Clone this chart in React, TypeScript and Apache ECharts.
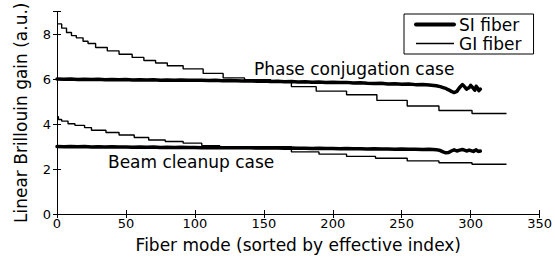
import React, { useEffect, useRef } from "react";
import * as echarts from "echarts";

// SI fiber (thick, noisy) — mode index and gain
const siModes = [
  0, 5, 10, 15, 20, 25, 30, 35, 40, 45, 50, 55, 60, 65, 70, 75, 80, 85, 90, 95,
  100, 105, 110, 115, 120, 125, 130, 135, 140, 145, 150, 155, 160, 165, 170, 175,
  180, 185, 190, 195, 200, 205, 210, 215, 220, 225, 230, 235, 240, 245, 250, 255,
  260, 265, 270, 275, 278, 280, 282, 284, 286, 288, 290, 292, 294, 295, 297, 299,
  300, 302, 303, 304, 305, 306, 307,
];
const siPhase = [
  6.0, 5.99, 6.0, 5.98, 5.99, 5.98, 5.99, 5.97, 5.98, 5.97, 5.98, 5.96, 5.97, 5.96, 5.97, 5.95, 5.96, 5.95, 5.96, 5.94,
  5.95, 5.94, 5.93, 5.94, 5.92, 5.93, 5.92, 5.91, 5.92, 5.9, 5.91, 5.89, 5.9, 5.88, 5.89, 5.87,
  5.88, 5.86, 5.87, 5.85, 5.86, 5.84, 5.85, 5.82, 5.83, 5.81, 5.8, 5.81, 5.78, 5.79, 5.77, 5.78,
  5.75, 5.76, 5.73, 5.7, 5.66, 5.62, 5.58, 5.52, 5.45, 5.4, 5.45, 5.62, 5.75, 5.7, 5.55, 5.62,
  5.72, 5.58, 5.5, 5.68, 5.6, 5.48, 5.55,
];
const siBeam = [
  3.0, 2.99, 3.0, 2.99, 3.0, 2.98, 2.99, 2.98, 2.99, 2.98, 2.98, 2.97, 2.98, 2.97, 2.98, 2.96, 2.97, 2.96, 2.97, 2.96,
  2.96, 2.95, 2.96, 2.95, 2.95, 2.94, 2.95, 2.94, 2.94, 2.93, 2.94, 2.93, 2.93, 2.92, 2.93, 2.92,
  2.92, 2.91, 2.92, 2.91, 2.91, 2.9, 2.91, 2.9, 2.9, 2.89, 2.9, 2.89, 2.89, 2.88, 2.89, 2.88,
  2.88, 2.87, 2.88, 2.86, 2.82, 2.76, 2.72, 2.73, 2.8, 2.85, 2.8, 2.84, 2.87, 2.85, 2.8, 2.84,
  2.82, 2.78, 2.82, 2.85, 2.8, 2.78, 2.8,
];

// GI fiber (thin, staircase) — phase conjugation case
const giPhaseModes = [
  0, 3.4, 6.9, 10.5, 14, 18.9, 22.5, 28, 36.5, 45, 54.5, 63, 71.5, 80, 91.5, 106,
  120.5, 136, 155, 170, 188, 210, 232, 254, 277, 301, 326,
];
const giPhase = [
  8.45, 8.26, 8.07, 7.93, 7.83, 7.68, 7.58, 7.4, 7.25, 7.1, 6.96, 6.82, 6.71, 6.59, 6.45, 6.25,
  6.05, 5.97, 5.92, 5.66, 5.46, 5.3, 5.05, 4.8, 4.6, 4.47, 4.47,
];

// GI fiber — beam cleanup case
const giBeamModes = [
  0, 1, 3.4, 8, 13, 20, 25, 35.5, 45, 56, 66.5, 78.5, 91.5, 105, 118, 170, 190, 210,
  231, 254, 277, 301, 326,
];
const giBeam = [
  4.33, 4.2, 4.13, 4.01, 3.94, 3.84, 3.72, 3.62, 3.51, 3.4, 3.29, 3.22, 3.15, 3.04, 2.99, 2.76, 2.66, 2.56,
  2.48, 2.36, 2.28, 2.21, 2.21,
];

const xTicks = [0, 50, 100, 150, 200, 250, 300, 350];
const yTicks = [0, 2, 4, 6, 8];

const FONT = "DejaVu Sans";

export default function App() {
  const ref = useRef<HTMLDivElement>(null);
  useEffect(() => {
    if (!ref.current) return;
    const chart = echarts.init(ref.current, undefined, { renderer: "svg" });
    const zip = (xs: number[], ys: number[]) => xs.map((x, i) => [x, ys[i]]);
    const axisLine = { show: true, lineStyle: { color: "#000", width: 1 } };
    const tick = { show: true, inside: true, length: 4, lineStyle: { color: "#000", width: 1 } };
    const labelStyle = { color: "#000", fontFamily: FONT, fontSize: 13 };
    chart.setOption({
      animation: false,
      backgroundColor: "#fff",
      grid: { left: 57, right: 10, top: 8, bottom: 43, containLabel: false },
      legend: {
        data: [
          { name: "SI fiber", lineStyle: { width: 4, color: "#000" }, itemStyle: { opacity: 0 } },
          { name: "GI fiber", lineStyle: { width: 1.5, color: "#000" }, itemStyle: { opacity: 0 } },
        ],
        orient: "vertical",
        left: 404,
        top: 14,
        itemWidth: 38,
        itemHeight: 14,
        itemGap: 2,
        padding: [2, 12, 2, 10],
        borderColor: "#000",
        borderWidth: 1,
        backgroundColor: "#fff",
        textStyle: { color: "#000", fontFamily: FONT, fontSize: 17, padding: [0, 0, 0, 0] },
      },
      xAxis: [
        {
          type: "value",
          min: 0,
          max: 350,
          interval: 50,
          position: "bottom",
          name: "Fiber mode (sorted by effective index)",
          nameLocation: "middle",
          nameGap: 22,
          nameTextStyle: { color: "#000", fontFamily: FONT, fontSize: 17 },
          axisLine,
          axisTick: tick,
          splitLine: { show: false },
          axisLabel: { ...labelStyle, margin: 3, formatter: (v: number) => (xTicks.includes(v) ? String(v) : "") },
        },
        {
          type: "value",
          min: 0,
          max: 350,
          interval: 50,
          position: "top",
          axisLine,
          axisTick: tick,
          splitLine: { show: false },
          axisLabel: { show: false },
        },
      ],
      yAxis: [
        {
          type: "value",
          min: 0,
          max: 9,
          interval: 2,
          position: "left",
          name: "Linear Brillouin gain (a.u.)",
          nameLocation: "middle",
          nameGap: 28,
          nameTextStyle: { color: "#000", fontFamily: FONT, fontSize: 17 },
          axisLine,
          axisTick: tick,
          splitLine: { show: false },
          axisLabel: { ...labelStyle, margin: 6, formatter: (v: number) => (yTicks.includes(v) ? String(v) : "") },
        },
        {
          type: "value",
          min: 0,
          max: 9,
          interval: 2,
          position: "right",
          axisLine,
          axisTick: tick,
          splitLine: { show: false },
          axisLabel: { show: false },
        },
      ],
      series: [
        {
          name: "SI fiber",
          type: "line",
          data: zip(siModes, siPhase),
          symbol: "none",
          lineStyle: { color: "#000", width: 3.5, join: "round", cap: "round" },
          itemStyle: { color: "#000" },
          z: 3,
        },
        {
          name: "SI fiber",
          type: "line",
          data: zip(siModes, siBeam),
          symbol: "none",
          lineStyle: { color: "#000", width: 3.5, join: "round", cap: "round" },
          itemStyle: { color: "#000" },
          z: 3,
        },
        {
          name: "GI fiber",
          type: "line",
          step: "end",
          data: zip(giPhaseModes, giPhase),
          symbol: "none",
          lineStyle: { color: "#000", width: 1.4 },
          itemStyle: { color: "#000" },
          z: 2,
        },
        {
          name: "GI fiber",
          type: "line",
          step: "end",
          data: zip(giBeamModes, giBeam),
          symbol: "none",
          lineStyle: { color: "#000", width: 1.4 },
          itemStyle: { color: "#000" },
          z: 2,
        },
      ],
      graphic: [
        {
          type: "text",
          left: 254,
          top: 60,
          style: { text: "Phase conjugation case", fill: "#000", font: `17px "${FONT}"` },
        },
        {
          type: "text",
          left: 108,
          top: 153,
          style: { text: "Beam cleanup case", fill: "#000", font: `17px "${FONT}"` },
        },
      ],
    });
    return () => chart.dispose();
  }, []);
  return (
    <div
      ref={ref}
      style={{ position: "absolute", left: 0, top: 0, width: 555, height: 258 }}
    />
  );
}
